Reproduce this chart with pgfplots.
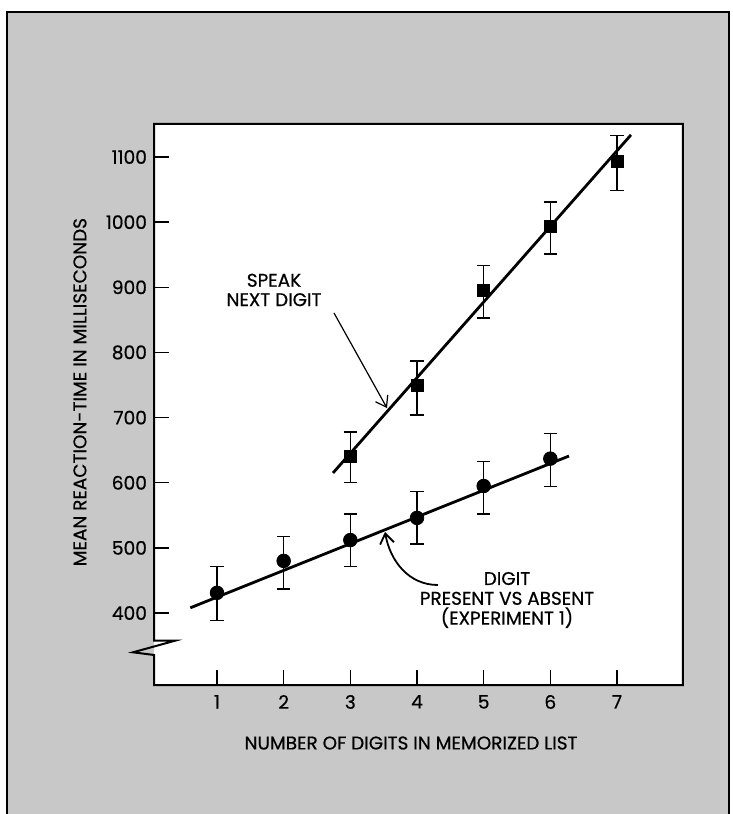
\documentclass[border=0pt]{standalone}
\usepackage{pgfplots}
\pgfplotsset{compat=1.18}
\usepackage{pgfplotstable}
\usepackage{fontspec}
\setmainfont{Poppins}[FakeBold=0.6]
\usetikzlibrary{arrows.meta}
\definecolor{bggray}{RGB}{200,200,200}

\pgfplotstableread{
x y ep em
1 431 40 42
2 480 37 43
3 512 40 41
4 546 40 40
5 595 38 43
6 637 38 43
}\circdata
\pgfplotstableread{
x y ep em
3 641 37 41
4 749 38 45
5 895 39 42
6 994 37 43
7 1093 40 45
}\sqdata
\pgfplotstableread{
x y
0.60 408
6.28 641
}\circfit
\pgfplotstableread{
x y
2.74 615
7.21 1134
}\sqfit

\begin{document}
\begin{tikzpicture}
\useasboundingbox (0,0) rectangle (366.5pt,-407pt);
\fill[bggray] (3.5pt,-6pt) rectangle (364.5pt,-412pt);
\draw[line width=0.9pt] (3.5pt,-412pt) -- (3.5pt,-6pt) -- (364.5pt,-6pt) -- (364.5pt,-412pt);
\begin{axis}[
  at={(77pt,-342.5pt)}, anchor=south west,
  scale only axis, width=264.5pt, height=280.5pt,
  xmin=0.055, xmax=7.99, ymin=289.5, ymax=1150.7,
  axis line style={draw=none},
  axis background/.style={fill=white},
  clip=false,
  xtick={1,...,7}, ytick={400,500,...,1100},
  tick pos=left, tick align=inside,
  major tick length=7.5pt,
  tick style={black, line width=0.7pt},
  /pgf/number format/assume math mode=true,
  /pgf/number format/1000 sep={},
  ticklabel style={font=\fontsize{9.3}{10}\selectfont},
  xticklabel style={yshift=-1.5pt},
  xlabel={NUMBER OF DIGITS IN MEMORIZED LIST},
  xlabel style={at={(axis description cs:0.486,0)}, anchor=center, yshift=-29pt, font=\fontsize{9.2}{10}\selectfont},
  ylabel={MEAN REACTION-TIME IN MILLISECONDS},
  ylabel style={at={(axis description cs:-0.14,0.522)}, anchor=center, font=\fontsize{9.2}{10}\selectfont},
]
\draw[line width=1pt, line join=miter, line cap=rect]
  (axis cs:0.055,357.5) -- (rel axis cs:0,1) -- (rel axis cs:1,1) -- (rel axis cs:1,0) -- (rel axis cs:0,0)
  -- (axis cs:0.055,335.6) -- (axis cs:-0.26,339.7) -- (axis cs:0.37,357.5) -- (axis cs:0.055,357.5);
\addplot[black, line width=1.4pt] table {\sqfit};
\addplot[black, line width=1.4pt] table {\circfit};
\addplot[only marks, mark=square*, mark size=3pt, black,
  error bars/.cd, y dir=both, y explicit,
  error bar style={line width=0.6pt},
  error mark options={rotate=90, mark size=3.3pt, line width=0.6pt}]
  table[x=x, y=y, y error plus=ep, y error minus=em] {\sqdata};
\addplot[only marks, mark=*, mark size=3.4pt, black,
  error bars/.cd, y dir=both, y explicit,
  error bar style={line width=0.6pt},
  error mark options={rotate=90, mark size=3.3pt, line width=0.6pt}]
  table[x=x, y=y, y error plus=ep, y error minus=em] {\circdata};
\node[align=center, font=\fontsize{9.2}{9.7}\selectfont] at (axis cs:1.855,895.9) {SPEAK\\NEXT DIGIT};
\draw[-{Straight Barb[length=5pt,width=7pt]}, line width=0.6pt] (axis cs:2.755,860.6) -- (axis cs:3.55,714.7);
\node[align=center, font=\fontsize{9.2}{9.9}\selectfont] at (axis cs:5.35,420) {DIGIT\\PRESENT VS ABSENT\\(EXPERIMENT 1)};
\draw[-{Straight Barb[length=5pt,width=7pt]}, line width=0.9pt] (axis cs:4.315,443) to[out=180,in=-80] (axis cs:3.52,524.4);
\end{axis}
\end{tikzpicture}
\end{document}
